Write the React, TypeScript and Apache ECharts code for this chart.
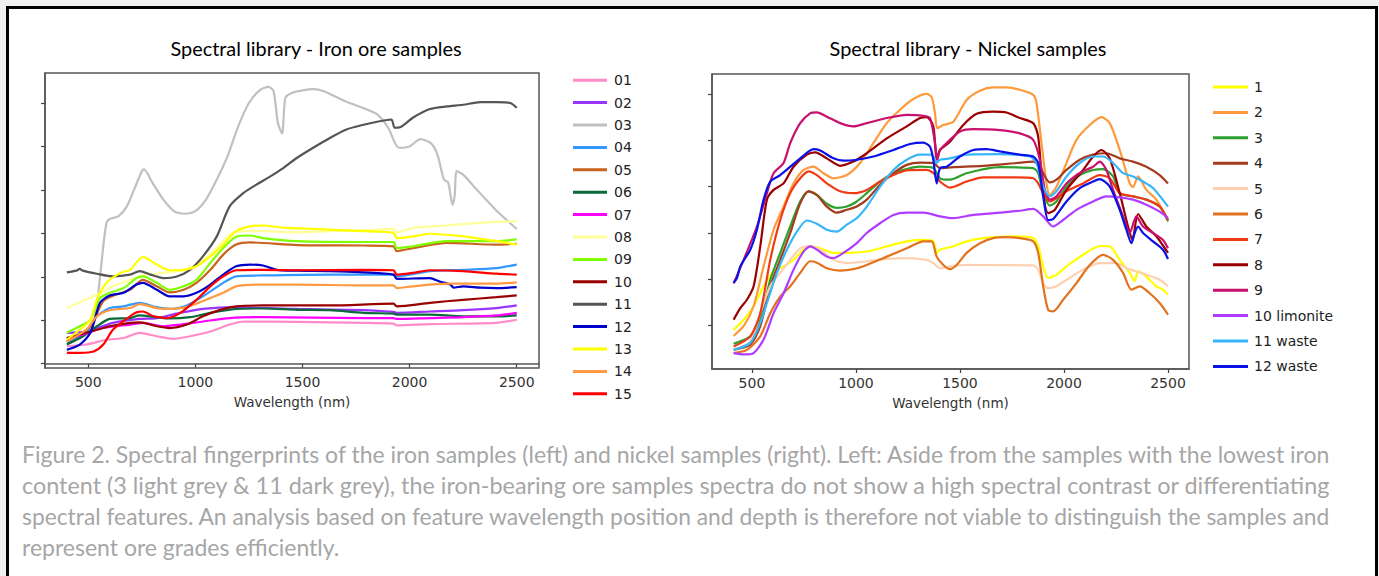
import React, { useEffect, useRef } from "react";
import * as echarts from "echarts";

// ---------- text ----------
const TITLE_IRON = "Spectral library - Iron ore samples";
const TITLE_NICKEL = "Spectral library - Nickel samples";
const X_NAME = "Wavelength (nm)";
const CAPTION_LINES = [
  "Figure 2. Spectral fingerprints of the iron samples (left) and nickel samples (right). Left: Aside from the samples with the lowest iron",
  "content (3 light grey & 11 dark grey), the iron-bearing ore samples spectra do not show a high spectral contrast or differentiating",
  "spectral features. An analysis based on feature wavelength position and depth is therefore not viable to distinguish the samples and",
  "represent ore grades efficiently.",
];

// ---------- axes ----------
const X_TICKS = [500, 1000, 1500, 2000, 2500];
const IRON_Y_TICKS = [0, 10, 20, 30, 40, 50, 60];
const NICKEL_Y_TICKS = [10, 20, 30, 40, 50, 60];

// ---------- iron ore series: [wavelength nm, reflectance (relative)] ----------
const IRON_NAMES = ["01", "02", "03", "04", "05", "06", "07", "08", "09", "10", "11", "12", "13", "14", "15"];
const IRON_COLORS = ["#ff8cc8", "#9933ff", "#c0c0c0", "#3399ff", "#c8641e", "#0a6a3a", "#ff00ff", "#ffff99", "#7fff00", "#990000", "#555555", "#0000cc", "#ffff00", "#ff9a40", "#ff0000"];

const iron01 = [[400,4.0],[490,4.4],[585,5.5],[665,5.9],[740,7.1],[820,6.3],[895,5.7],[975,6.3],[1070,7.4],[1160,9.0],[1225,9.7],[1475,9.6],[1785,9.4],[1925,9.2],[1940,8.8],[2095,9.1],[2405,9.4],[2500,10.1]];
const iron02 = [[400,7.1],[490,7.4],[615,9.4],[740,10.3],[820,10.5],[910,11.5],[1035,12.6],[1190,13.0],[1475,12.6],[1785,12.3],[1925,11.9],[1940,11.7],[2095,12.0],[2250,12.3],[2405,12.8],[2500,13.4]];
const iron03 = [[400,5.9],[500,7.1],[530,10.1],[550,17.8],[570,27.0],[585,32.4],[600,33.3],[640,33.9],[680,36.2],[720,40.8],[750,44.3],[760,44.7],[800,41.6],[850,37.8],[900,35.1],[950,34.5],[1000,35.1],[1050,37.8],[1100,42.4],[1150,47.7],[1200,54.6],[1250,60.0],[1300,62.9],[1340,63.7],[1365,62.7],[1385,55.4],[1405,53.0],[1420,61.2],[1450,62.3],[1500,62.9],[1550,63.2],[1600,62.7],[1700,60.4],[1800,58.5],[1850,57.3],[1900,54.3],[1950,49.7],[2000,50.0],[2050,51.7],[2100,50.7],[2130,48.1],[2160,42.4],[2180,41.7],[2200,36.6],[2210,38.5],[2220,44.3],[2250,43.5],[2300,40.8],[2350,38.1],[2400,35.5],[2450,33.2],[2500,31.0]];
const iron04 = [[400,4.8],[490,7.1],[540,10.9],[600,12.8],[665,13.2],[740,14.0],[820,13.0],[880,12.6],[960,13.4],[1035,15.5],[1130,18.6],[1190,20.1],[1315,20.3],[1630,20.5],[1785,20.5],[1925,20.5],[1940,20.1],[2095,21.3],[2250,21.6],[2405,22.0],[2500,22.8]];
const iron05 = [[400,5.1],[510,8.6],[570,14.4],[630,15.9],[695,17.0],[755,19.3],[820,17.8],[880,16.4],[945,17.0],[1005,18.6],[1070,21.6],[1130,25.1],[1190,27.4],[1255,27.9],[1475,27.3],[1785,27.2],[1925,27.0],[1940,25.9],[2015,26.6],[2175,27.8],[2405,27.4],[2500,27.6]];
const iron06 = [[400,4.4],[475,6.3],[540,8.6],[600,10.3],[695,10.5],[740,11.1],[820,10.7],[880,10.4],[975,10.7],[1070,11.7],[1190,12.6],[1315,12.7],[1475,12.4],[1630,12.3],[1785,11.7],[1925,11.5],[1940,11.3],[2095,11.3],[2250,10.9],[2405,10.9],[2500,11.1]];
const iron07 = [[400,5.7],[475,6.7],[570,8.2],[695,9.0],[755,9.4],[850,8.6],[930,9.0],[1035,9.7],[1160,10.5],[1315,10.7],[1785,10.5],[1925,10.5],[1940,10.3],[2095,10.5],[2250,10.7],[2405,11.1],[2500,11.7]];
const iron08 = [[400,12.8],[460,14.1],[540,15.9],[615,17.8],[695,19.3],[755,20.3],[850,20.9],[960,21.6],[1035,23.9],[1100,26.6],[1160,29.7],[1225,30.5],[1315,30.5],[1475,30.2],[1630,30.5],[1785,30.7],[1925,31.0],[1940,30.2],[2015,31.2],[2175,31.8],[2330,32.4],[2500,32.8]];
const iron09 = [[400,7.1],[460,8.6],[510,10.1],[555,15.1],[600,16.3],[665,17.4],[725,19.7],[755,20.1],[820,18.6],[880,17.0],[945,17.8],[1005,19.3],[1070,23.2],[1130,26.6],[1190,29.2],[1255,29.5],[1315,28.9],[1475,28.2],[1785,28.0],[1925,28.0],[1940,26.6],[2015,27.0],[2175,28.2],[2405,28.2],[2500,28.6]];
const iron10 = [[400,5.9],[490,7.1],[540,7.8],[600,8.6],[695,9.4],[740,9.5],[820,8.6],[880,8.2],[960,9.0],[1035,10.9],[1130,12.6],[1190,13.2],[1315,13.4],[1630,13.4],[1925,13.8],[1940,13.2],[2095,14.0],[2250,14.7],[2405,15.3],[2500,15.7]];
const iron11 = [[400,21.0],[445,21.4],[460,21.8],[475,21.4],[540,20.7],[615,20.1],[695,20.5],[740,21.3],[790,20.5],[850,19.7],[910,20.0],[975,21.6],[1035,24.7],[1100,29.3],[1160,36.2],[1225,39.3],[1285,41.2],[1350,43.1],[1410,45.0],[1475,47.4],[1550,49.7],[1630,52.0],[1705,53.9],[1785,55.0],[1860,55.8],[1915,56.2],[1930,54.3],[1955,54.4],[2015,56.6],[2095,58.6],[2175,59.2],[2250,59.6],[2330,60.2],[2405,60.2],[2470,60.0],[2500,58.9]];
const iron12 = [[400,3.2],[460,4.4],[510,7.1],[555,14.0],[600,15.7],[665,16.3],[725,18.2],[755,18.6],[820,17.0],[880,15.5],[945,15.5],[1005,16.3],[1070,18.2],[1130,20.5],[1190,22.4],[1255,22.8],[1315,22.6],[1380,21.6],[1475,21.4],[1630,21.3],[1785,21.0],[1925,20.5],[1940,19.5],[2095,19.7],[2140,18.9],[2190,18.2],[2205,17.5],[2250,17.8],[2330,17.5],[2405,17.4],[2500,17.6]];
const iron13 = [[400,5.5],[460,7.8],[510,10.1],[540,14.7],[585,18.6],[650,20.9],[695,21.6],[755,24.6],[820,22.8],[880,21.5],[945,21.6],[1005,22.4],[1070,24.7],[1130,27.4],[1190,30.5],[1255,31.6],[1315,31.8],[1410,31.3],[1550,31.0],[1785,30.5],[1925,30.1],[1940,28.9],[2015,29.3],[2095,29.9],[2250,29.3],[2405,28.2],[2500,27.4]];
const iron14 = [[400,5.1],[490,7.8],[540,10.9],[600,12.3],[695,12.8],[740,13.7],[820,12.8],[880,12.6],[960,13.0],[1035,14.4],[1130,16.3],[1190,17.8],[1285,18.2],[1475,18.2],[1785,18.0],[1925,18.0],[1940,17.4],[2015,17.8],[2175,18.4],[2405,18.4],[2500,18.7]];
const iron15 = [[400,2.5],[460,2.5],[525,2.8],[570,4.4],[615,7.8],[695,10.9],[725,11.8],[755,12.0],[805,10.9],[865,10.5],[930,11.7],[1005,14.7],[1070,17.8],[1130,20.1],[1190,21.5],[1315,21.6],[1475,21.5],[1785,21.6],[1925,21.5],[1940,20.5],[2015,20.9],[2095,21.5],[2250,21.3],[2405,20.7],[2500,20.5]];
const IRON_DATA = [iron01, iron02, iron03, iron04, iron05, iron06, iron07, iron08, iron09, iron10, iron11, iron12, iron13, iron14, iron15];

// ---------- nickel series ----------
const NICKEL_NAMES = ["1", "2", "3", "4", "5", "6", "7", "8", "9", "10 limonite", "11 waste", "12 waste"];
const NICKEL_COLORS = ["#ffff00", "#ff9a3c", "#2ea02e", "#a33c1c", "#ffd0b0", "#e2721e", "#f03a16", "#9b0000", "#c8106e", "#b03cff", "#38b6f8", "#0a10e8"];

const nickel1 = [[412,9.1],[460,11.3],[508,14.2],[556,18.5],[604,21.7],[652,22.8],[700,24.2],[748,26.4],[788,27.1],[828,26.7],[892,25.7],[956,25.7],[1052,26.0],[1148,27.1],[1244,28.2],[1324,28.5],[1372,28.2],[1388,25.7],[1404,26.4],[1468,27.1],[1532,28.2],[1612,28.9],[1772,29.3],[1852,28.9],[1876,27.1],[1900,22.8],[1924,20.3],[1964,21.0],[2012,22.8],[2092,25.3],[2172,27.2],[2220,27.1],[2268,24.2],[2316,21.4],[2340,19.6],[2356,21.7],[2396,20.6],[2444,18.5],[2476,17.8],[2500,16.7]];
const nickel2 = [[412,7.8],[460,9.9],[508,14.2],[556,22.8],[604,30.7],[652,35.7],[700,40.7],[748,43.6],[796,44.3],[844,42.9],[892,41.8],[956,42.5],[1020,45.1],[1084,49.4],[1148,53.7],[1212,56.6],[1276,58.9],[1340,60.0],[1364,59.3],[1380,55.8],[1391,52.6],[1420,53.3],[1468,54.0],[1532,58.7],[1596,60.7],[1660,61.4],[1724,61.4],[1788,60.9],[1852,59.8],[1868,58.0],[1892,49.4],[1916,40.7],[1932,38.2],[1964,40.0],[2012,45.1],[2060,50.1],[2124,53.3],[2180,55.0],[2220,53.7],[2268,47.9],[2316,40.7],[2332,39.9],[2356,42.2],[2396,39.3],[2444,37.2],[2500,32.8]];
const nickel3 = [[412,6.1],[492,7.7],[540,11.3],[588,19.9],[636,25.7],[684,31.4],[732,36.8],[772,39.0],[812,38.2],[860,36.3],[908,35.4],[956,35.7],[1004,36.8],[1052,38.6],[1116,41.1],[1180,42.9],[1244,43.8],[1308,44.3],[1372,44.0],[1404,41.8],[1452,41.5],[1532,42.9],[1692,44.2],[1852,44.0],[1876,42.9],[1900,38.6],[1932,35.9],[1964,36.8],[2012,40.0],[2076,42.5],[2140,43.6],[2188,43.8],[2236,42.2],[2268,38.6],[2332,37.9],[2396,37.2],[2460,35.7],[2500,32.5]];
const nickel4 = [[412,4.8],[492,5.9],[540,9.9],[588,18.5],[636,24.2],[684,30.0],[732,36.4],[772,39.0],[812,38.2],[860,35.7],[908,34.4],[956,35.0],[1004,35.7],[1052,37.2],[1116,40.4],[1180,42.9],[1244,44.7],[1308,45.2],[1372,45.1],[1404,44.0],[1468,44.2],[1612,44.5],[1772,45.1],[1852,45.4],[1884,44.3],[1908,42.2],[1932,40.9],[1964,41.5],[2012,43.6],[2076,45.8],[2140,46.9],[2204,47.2],[2268,46.1],[2332,45.4],[2396,44.3],[2460,42.5],[2500,40.7]];
const nickel5 = [[412,4.8],[492,6.6],[540,12.7],[588,18.5],[636,21.4],[684,24.2],[732,26.7],[780,27.2],[828,26.4],[892,24.2],[956,23.5],[1052,23.9],[1148,24.4],[1244,24.6],[1340,24.2],[1372,23.5],[1404,22.4],[1468,22.9],[1532,23.1],[1852,23.0],[1876,22.1],[1900,19.2],[1924,18.1],[1964,18.5],[2012,19.9],[2092,22.1],[2172,23.5],[2252,23.5],[2300,22.4],[2348,21.7],[2396,21.0],[2460,19.9],[2500,18.5]];
const nickel6 = [[412,4.1],[476,4.8],[540,7.7],[588,12.7],[636,16.3],[684,18.5],[732,21.4],[780,23.9],[812,23.6],[860,22.4],[924,21.9],[988,22.2],[1052,23.1],[1148,24.9],[1244,26.7],[1324,28.2],[1364,28.2],[1388,24.9],[1420,23.1],[1452,22.2],[1484,23.1],[1532,25.7],[1596,27.8],[1660,28.9],[1724,29.1],[1788,28.9],[1852,28.2],[1876,25.7],[1900,18.5],[1924,13.4],[1948,13.1],[1996,15.6],[2060,19.2],[2124,23.1],[2188,25.3],[2236,24.2],[2284,21.4],[2324,17.8],[2364,18.5],[2412,17.0],[2460,14.9],[2500,12.4]];
const nickel7 = [[412,5.5],[492,7.7],[540,12.7],[588,24.2],[636,32.8],[684,38.6],[732,41.8],[772,43.3],[812,42.5],[860,40.7],[924,39.0],[988,38.6],[1052,39.3],[1116,41.1],[1180,42.5],[1244,43.5],[1340,43.6],[1372,42.9],[1404,41.1],[1452,39.8],[1532,41.1],[1612,42.0],[1772,42.0],[1852,41.8],[1876,40.7],[1900,38.6],[1932,36.8],[1964,37.5],[2012,39.0],[2092,40.7],[2172,42.5],[2220,41.8],[2268,38.6],[2332,37.9],[2396,37.2],[2460,35.7],[2500,32.8]];
const nickel8 = [[412,11.3],[444,13.8],[476,15.6],[508,18.5],[540,27.1],[572,37.2],[604,39.3],[652,40.7],[700,44.3],[764,46.9],[804,47.4],[860,46.1],[924,44.5],[988,45.4],[1052,47.2],[1148,50.4],[1244,53.0],[1308,54.8],[1340,55.0],[1372,53.0],[1388,45.8],[1404,47.9],[1452,49.7],[1516,53.3],[1580,55.7],[1660,56.2],[1724,56.0],[1788,54.8],[1852,53.7],[1876,50.8],[1900,38.6],[1924,34.3],[1956,35.0],[2012,39.3],[2092,43.6],[2140,46.5],[2180,47.9],[2220,46.1],[2268,38.6],[2308,31.4],[2329,28.5],[2356,34.1],[2396,31.4],[2444,29.3],[2500,25.7]];
const nickel9 = [[412,19.1],[460,24.2],[524,31.4],[572,38.6],[604,42.9],[652,45.1],[684,49.4],[732,53.7],[780,55.8],[812,56.0],[860,55.1],[924,53.7],[988,53.0],[1052,53.7],[1148,54.8],[1244,55.5],[1324,55.3],[1356,54.8],[1380,49.4],[1391,45.8],[1404,47.9],[1436,49.4],[1500,51.9],[1564,52.4],[1692,52.2],[1788,51.5],[1852,50.1],[1884,45.8],[1908,39.3],[1932,37.2],[1964,37.9],[2012,40.7],[2060,42.5],[2092,43.3],[2140,44.3],[2172,45.4],[2204,43.6],[2236,39.3],[2284,33.6],[2316,30.0],[2348,33.6],[2380,31.4],[2428,30.0],[2476,28.5],[2500,26.7]];
const nickel10 = [[412,4.1],[460,3.8],[508,4.1],[556,7.0],[604,12.7],[652,17.0],[700,22.1],[748,26.0],[780,27.1],[812,26.4],[860,24.9],[892,24.6],[940,25.7],[1004,27.8],[1052,30.0],[1116,32.1],[1180,33.9],[1244,34.4],[1324,34.4],[1404,33.6],[1468,33.2],[1564,33.9],[1692,34.4],[1788,34.8],[1852,35.2],[1900,33.6],[1948,31.4],[1996,32.8],[2060,35.0],[2140,36.8],[2204,37.9],[2268,37.7],[2332,37.2],[2396,36.1],[2460,34.6],[2500,33.2]];
const nickel11 = [[412,4.8],[492,6.3],[540,10.6],[572,14.9],[620,21.4],[668,26.4],[716,30.3],[764,32.7],[812,32.0],[860,30.7],[908,30.3],[956,31.8],[1004,33.2],[1052,35.7],[1116,40.0],[1180,43.6],[1244,45.8],[1308,46.9],[1356,46.9],[1372,46.5],[1388,45.1],[1404,45.8],[1452,46.1],[1532,46.9],[1692,47.0],[1836,46.5],[1868,45.1],[1900,40.0],[1932,37.9],[1964,39.0],[2012,42.2],[2076,45.1],[2140,46.5],[2188,46.5],[2236,45.1],[2284,42.9],[2332,42.2],[2380,41.1],[2428,39.7],[2500,35.7]];
const nickel12 = [[412,19.3],[428,20.3],[444,22.8],[492,26.4],[524,30.7],[556,37.2],[588,41.1],[636,42.5],[684,44.3],[732,46.1],[796,48.1],[828,47.8],[892,46.1],[940,45.6],[1004,45.8],[1084,46.5],[1180,47.9],[1260,49.2],[1324,49.5],[1356,48.6],[1372,45.8],[1388,40.7],[1404,44.0],[1436,44.3],[1500,46.5],[1564,47.9],[1628,48.1],[1692,47.6],[1788,46.9],[1852,46.5],[1876,45.1],[1900,37.9],[1924,32.8],[1948,33.0],[2012,36.8],[2076,39.7],[2140,41.1],[2172,41.6],[2220,40.0],[2268,35.0],[2300,30.7],[2324,27.8],[2340,30.0],[2356,31.4],[2380,30.0],[2428,28.2],[2476,26.4],[2500,24.4]];
const NICKEL_DATA = [nickel1, nickel2, nickel3, nickel4, nickel5, nickel6, nickel7, nickel8, nickel9, nickel10, nickel11, nickel12];

function fitFontSize(text: string, family: string, target: number, fallback: number) {
  try {
    const ctx = document.createElement("canvas").getContext("2d");
    if (!ctx) return fallback;
    ctx.font = `100px ${family}`;
    const w = ctx.measureText(text).width;
    return w > 0 ? (target / w) * 100 : fallback;
  } catch (e) {
    return fallback;
  }
}

export default function App() {
  const ref = useRef<HTMLDivElement>(null);

  useEffect(() => {
    if (!ref.current) return;
    const chart = echarts.init(ref.current, undefined, { renderer: "svg" });

    const axisColor = "#555";
    const labelFont = "DejaVu Sans";
    const titleSize = fitFontSize(TITLE_IRON, "Lato", 292, 17);
    // lines 1-3 are justified to the same right edge in the reference
    const captionSizes = CAPTION_LINES.map((line, i) =>
      i < 3 ? fitFontSize(line, "Lato", 1310, 18.5) : fitFontSize(CAPTION_LINES[0], "Lato", 1310, 18.5)
    );

    const xAxisBase = (gridIndex: number, min: number, max: number) => ({
      type: "value",
      gridIndex,
      min,
      max,
      name: X_NAME,
      nameLocation: "middle",
      nameGap: 27,
      nameTextStyle: { fontFamily: labelFont, fontSize: 13.5, color: "#333" },
      axisLine: { show: true, lineStyle: { color: axisColor, width: 1.5 } },
      axisTick: { show: true, length: 4, customValues: X_TICKS, lineStyle: { color: "#444", width: 1.2 } },
      axisLabel: {
        show: true,
        customValues: X_TICKS,
        margin: 7,
        fontFamily: labelFont,
        fontSize: 14,
        color: "#333",
        formatter: (v: number) => String(v),
      },
      splitLine: { show: false },
    });
    const yAxisBase = (gridIndex: number, min: number, max: number, ticks: number[]) => ({
      type: "value",
      gridIndex,
      min,
      max,
      axisLine: { show: true, lineStyle: { color: axisColor, width: 1.5 } },
      axisTick: { show: true, length: 4, customValues: ticks, lineStyle: { color: "#444", width: 1.2 } },
      axisLabel: { show: false },
      splitLine: { show: false },
    });

    const ironSeries = IRON_NAMES.map((name, i) => ({
      type: "line",
      name,
      xAxisIndex: 0,
      yAxisIndex: 0,
      data: IRON_DATA[i],
      symbol: "none",
      smooth: 0.25,
      lineStyle: { width: 2.2, color: IRON_COLORS[i] },
      itemStyle: { color: IRON_COLORS[i] },
    }));
    const nickelSeries = NICKEL_NAMES.map((name, i) => ({
      type: "line",
      name,
      xAxisIndex: 1,
      yAxisIndex: 1,
      data: NICKEL_DATA[i],
      symbol: "none",
      smooth: 0.25,
      lineStyle: { width: 2.2, color: NICKEL_COLORS[i] },
      itemStyle: { color: NICKEL_COLORS[i] },
    }));

    const captionY = [454, 485, 516, 547];

    chart.setOption({
      animation: false,
      backgroundColor: "transparent",
      grid: [
        { left: 45, top: 73, width: 494, height: 295, show: true, borderColor: axisColor, borderWidth: 1.5, containLabel: false },
        { left: 712, top: 74, width: 477, height: 295, show: true, borderColor: axisColor, borderWidth: 1.5, containLabel: false },
      ],
      xAxis: [xAxisBase(0, 298, 2604), xAxisBase(1, 308, 2601)],
      yAxis: [yAxisBase(0, -1.0, 66.9, IRON_Y_TICKS), yAxisBase(1, 0.66, 64.3, NICKEL_Y_TICKS)],
      legend: [
        {
          data: IRON_NAMES,
          orient: "vertical",
          left: 568,
          top: 68.2,
          icon: "rect",
          itemWidth: 34,
          itemHeight: 3,
          itemGap: 8.4,
          selectedMode: false,
          textStyle: { fontFamily: labelFont, fontSize: 14, color: "#222", padding: [0, 0, 0, 2] },
        },
        {
          data: NICKEL_NAMES,
          orient: "vertical",
          left: 1208,
          top: 75,
          icon: "rect",
          itemWidth: 35,
          itemHeight: 3,
          itemGap: 11.4,
          selectedMode: false,
          textStyle: { fontFamily: labelFont, fontSize: 14, color: "#222", padding: [0, 0, 0, 1] },
        },
      ],
      graphic: [
        {
          type: "rect",
          z: -10,
          silent: true,
          shape: { x: 7.5, y: 7.5, width: 1369, height: 620 },
          style: { fill: "#ffffff", stroke: "#000000", lineWidth: 3 },
        },
        {
          type: "text",
          x: 316,
          y: 48,
          style: { text: TITLE_IRON, fontFamily: "Lato", fontSize: titleSize, fill: "#000", align: "center", verticalAlign: "middle" },
        },
        {
          type: "text",
          x: 968,
          y: 48,
          style: { text: TITLE_NICKEL, fontFamily: "Lato", fontSize: titleSize, fill: "#000", align: "center", verticalAlign: "middle" },
        },
        ...CAPTION_LINES.map((line, i) => ({
          type: "text",
          x: 22,
          y: captionY[i],
          style: { text: line, fontFamily: "Lato", fontSize: captionSizes[i], fill: "#a6a6a6", align: "left", verticalAlign: "middle" },
        })),
      ],
      series: [...ironSeries, ...nickelSeries],
    });

    return () => {
      chart.dispose();
    };
  }, []);

  return (
    <div style={{ position: "fixed", left: 0, top: 0, width: 1379, height: 576, background: "#f0f0f0", overflow: "hidden" }}>
      <div ref={ref} style={{ width: 1379, height: 576 }} />
    </div>
  );
}
